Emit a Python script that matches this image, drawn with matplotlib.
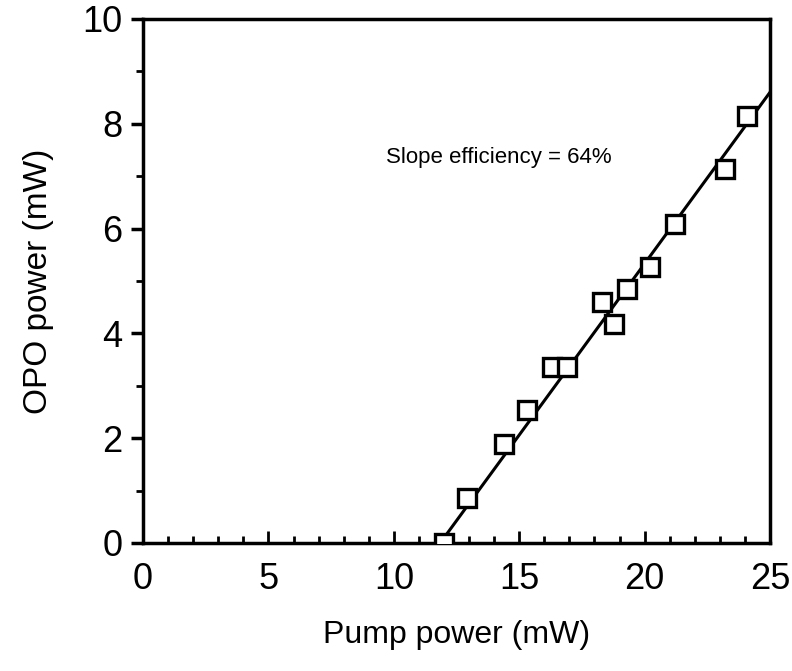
import matplotlib
matplotlib.use("Agg")
import matplotlib.pyplot as plt
from matplotlib.ticker import MultipleLocator

# measured OPO output vs pump power
pump_mw = [12.0, 12.9, 14.4, 15.3, 16.3, 16.9, 18.3, 18.8, 19.3, 20.2, 21.2, 23.2, 24.1]
opo_mw = [0.0, 0.85, 1.88, 2.54, 3.36, 3.36, 4.6, 4.18, 4.85, 5.27, 6.09, 7.14, 8.15]

# fitted line end points
fit_x = [11.85, 25.0]
fit_y = [0.0, 8.6]

plt.rcParams['font.family'] = ['Liberation Sans', 'DejaVu Sans']

fig = plt.figure(figsize=(7.92, 6.71), dpi=100)
ax = fig.add_axes([0.1806, 0.1908, 0.7916, 0.781])

ax.plot(fit_x, fit_y, color='black', lw=2.2, zorder=2)
ax.plot(pump_mw, opo_mw, linestyle='none', marker='s', ms=13, mfc='white',
        mec='black', mew=2.4, zorder=3)

ax.text(9.7, 7.35, 'Slope efficiency = 64%', fontsize=16, va='center', ha='left')

ax.set_xlim(0, 25)
ax.set_ylim(0, 10)
ax.xaxis.set_major_locator(MultipleLocator(5))
ax.xaxis.set_minor_locator(MultipleLocator(1))
ax.yaxis.set_major_locator(MultipleLocator(2))
ax.yaxis.set_minor_locator(MultipleLocator(1))

ax.tick_params(axis='x', which='major', direction='in', length=9, width=2, labelsize=26, pad=14)
ax.tick_params(axis='x', which='minor', direction='in', length=5, width=2)
ax.tick_params(axis='y', which='major', direction='out', length=9, width=2.5, labelsize=26, pad=6)
ax.tick_params(axis='y', which='minor', direction='out', length=5, width=2)

for s in ax.spines.values():
    s.set_linewidth(2.5)

ax.set_xlabel('Pump power (mW)', fontsize=23, labelpad=16)
ax.set_ylabel('OPO power (mW)', fontsize=24, labelpad=20)

fig.savefig('out.png', dpi=100)
